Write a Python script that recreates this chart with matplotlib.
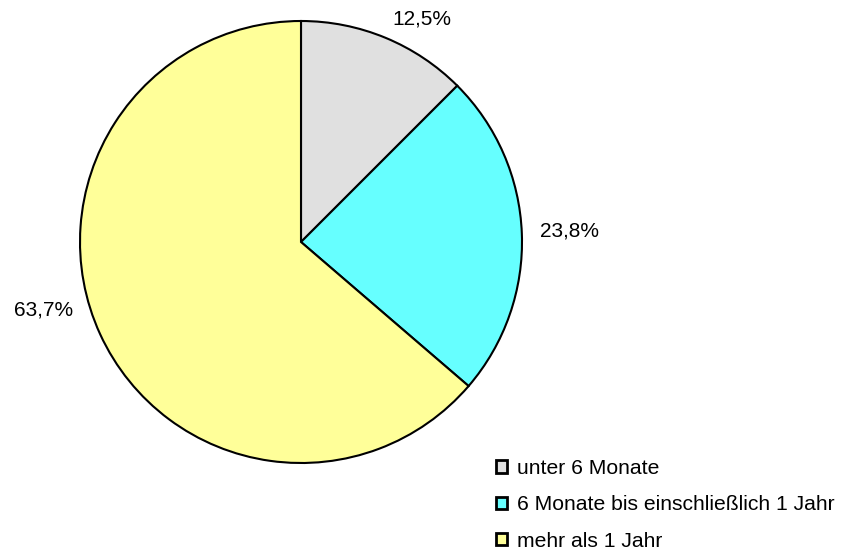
import numpy as np
import matplotlib.pyplot as plt

plt.rcParams['font.family'] = ['Liberation Sans', 'DejaVu Sans']

categories = ['unter 6 Monate', '6 Monate bis einschließlich 1 Jahr', 'mehr als 1 Jahr']
shares = [12.5, 23.8, 63.7]
labels = ['12,5%', '23,8%', '63,7%']
colors = ['#E0E0E0', '#66FFFF', '#FFFF99']

# small angular nudges for the outer labels (degrees)
label_shift = [0, 0, -7.5]

fig = plt.figure(figsize=(8.44, 5.56), dpi=100)
ax = fig.add_axes([80 / 844, 93 / 556, 442 / 844, 442 / 556])

wedges, _ = ax.pie(
    shares,
    colors=colors,
    startangle=90,
    counterclock=False,
    radius=1,
    wedgeprops=dict(edgecolor='black', linewidth=1.5),
)
ax.set_xlim(-1, 1)
ax.set_ylim(-1, 1)
ax.set_aspect('equal')
ax.axis('off')

for w, lab, shift in zip(wedges, labels, label_shift):
    theta = np.deg2rad((w.theta1 + w.theta2) / 2 + shift)
    x, y = 1.08 * np.cos(theta), 1.08 * np.sin(theta)
    ax.text(
        x, y + 0.01, lab,
        ha='left' if x > 0 else 'right',
        va='center',
        fontsize=15,
        clip_on=False,
    )

leg = fig.legend(
    wedges,
    categories,
    loc='upper left',
    bbox_to_anchor=(496 / 844, 1 - 459 / 556),
    frameon=False,
    fontsize=15.2,
    handlelength=0.5,
    handleheight=0.5,
    handletextpad=0.5,
    labelspacing=0.82,
    borderpad=0,
    borderaxespad=0,
)
for h in leg.legend_handles:
    h.set_linewidth(2)

fig.savefig('out.png', dpi=100)
